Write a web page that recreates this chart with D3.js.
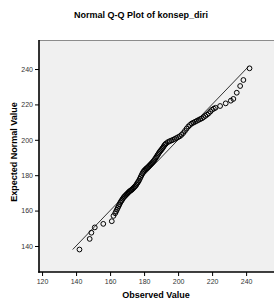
<!DOCTYPE html>
<html>
<head>
<meta charset="utf-8">
<script src="https://cdn.jsdelivr.net/npm/d3@7"></script>
<style>
  html, body { margin: 0; padding: 0; background: #ffffff; }
  svg { display: block; }
</style>
</head>
<body>
<svg id="chart" width="274" height="300"></svg>
<script>
// ---- data ----
const title = "Normal Q-Q Plot of konsep_diri";
const xLabel = "Observed Value";
const yLabel = "Expected Normal Value";
const xTicks = [120, 140, 160, 180, 200, 220, 240];
const yTicks = [140, 160, 180, 200, 220, 240];
const observed = [142, 148, 149, 151, 156, 161, 162,
  163, 163.5, 164, 164.5, 165, 165.5, 166, 166.5, 167, 167.5, 168, 168.5, 169, 169.5, 170, 170.5,
  171, 171.5, 172, 172.5, 173, 173.5, 174, 174.5, 175, 175.5, 176, 176.5, 177, 177.5, 178, 178.5,
  179, 179.5, 180, 180.5, 181, 181.5, 182, 182.5, 183, 183.5, 184, 184.5, 185, 185.5, 186, 186.5,
  187, 187.5, 188, 188.5, 189, 189.5, 190, 190.5, 191, 191.5, 192, 192.5, 193, 194, 195, 196, 197, 198,
  199, 200, 201, 202, 203, 204, 205, 206, 207, 208, 209, 210, 211, 212, 213, 214, 215, 216,
  217, 218, 219, 220, 221, 222, 224.7, 228, 231, 232.5, 234.5, 236.5, 238.4, 242];
const expected = [138, 144, 147.5, 150.5, 152.5, 154, 157,
  158.5, 159.5, 160.5, 161.5, 162.5, 163.5, 164.5, 165.3, 166, 166.8, 167.5, 168, 168.5, 169, 169.5, 170,
  170.5, 170.9, 171.3, 171.6, 172, 172.5, 173, 173.5, 174, 174.7, 175.5, 176.2, 177, 178, 179, 180,
  181, 181.8, 182.5, 183, 183.5, 183.9, 184.3, 184.8, 185.3, 185.8, 186.3, 186.8, 187.3, 187.9, 188.5, 189.2,
  190, 190.7, 191.5, 192.2, 193, 193.6, 194.2, 194.8, 195.5, 196.2, 197, 197.5, 198, 198.7, 199.2, 199.6, 200, 200.5,
  201, 201.5, 202, 202.8, 203.8, 205, 206.3, 207.5, 208.4, 209.2, 209.7, 210.2, 210.7, 211.2, 211.7, 212.1, 212.8, 213.5,
  214.2, 215, 216, 217, 217.6, 218.1, 219.1, 220.6, 222.1, 223.1, 226.6, 230.4, 233.8, 240.4];
const refLine = [138, 241.5];
const xDomain = [118.2, 256.4];
const yDomain = [125.3, 256.4];

// ---- layout ----
const plot = { left: 39, top: 40, right: 274, bottom: 272 };
const svg = d3.select("#chart");
const font = "'Liberation Sans', Arial, sans-serif";

const x = d3.scaleLinear().domain(xDomain).range([plot.left, plot.right]);
const y = d3.scaleLinear().domain(yDomain).range([plot.bottom, plot.top]);

// plot background
svg.append("rect")
  .attr("x", plot.left).attr("y", plot.top)
  .attr("width", plot.right - plot.left).attr("height", plot.bottom - plot.top)
  .attr("fill", "#f0f0f0");

// top frame line
svg.append("line")
  .attr("x1", plot.left).attr("x2", plot.right)
  .attr("y1", plot.top + 0.5).attr("y2", plot.top + 0.5)
  .attr("stroke", "#8c8c8c").attr("stroke-width", 1);

// reference line y = x
svg.append("line")
  .attr("x1", x(refLine[0])).attr("y1", y(refLine[0]))
  .attr("x2", x(refLine[1])).attr("y2", y(refLine[1]))
  .attr("stroke", "#000").attr("stroke-width", 0.8);

// points
const pts = observed.map((v, i) => ({ o: v, e: expected[i] }));
svg.append("g").selectAll("circle").data(pts).join("circle")
  .attr("cx", d => x(d.o)).attr("cy", d => y(d.e))
  .attr("r", 2.4)
  .attr("fill", "none")
  .attr("stroke", "#000").attr("stroke-width", 1);

// axes
const xAxis = d3.axisBottom(x).tickValues(xTicks).tickSize(4).tickPadding(3).tickSizeOuter(0);
const yAxis = d3.axisLeft(y).tickValues(yTicks).tickSize(4).tickPadding(2).tickSizeOuter(0);

const gx = svg.append("g").attr("transform", `translate(0,${plot.bottom})`).call(xAxis);
const gy = svg.append("g").attr("transform", `translate(${plot.left},0)`).call(yAxis);

[gx, gy].forEach(g => {
  g.select(".domain").attr("stroke", "#000").attr("stroke-width", 1.6);
  g.selectAll(".tick line").attr("stroke", "#000").attr("stroke-width", 1);
  g.selectAll(".tick text").attr("font-family", font).attr("font-size", 7).attr("fill", "#333");
});
gx.select(".domain").attr("d", `M${plot.left - 0.8},0H${plot.right}`);
gy.select(".domain").attr("d", `M0,${plot.top}V${plot.bottom + 0.8}`);

// title
svg.append("text")
  .attr("x", 141).attr("y", 18)
  .attr("text-anchor", "middle")
  .attr("font-family", font).attr("font-size", 9).attr("font-weight", "bold")
  .text(title);

// x label
svg.append("text")
  .attr("x", 156).attr("y", 298)
  .attr("text-anchor", "middle")
  .attr("font-family", font).attr("font-size", 9).attr("font-weight", "bold")
  .text(xLabel);

// y label
svg.append("text")
  .attr("transform", `translate(17,152) rotate(-90)`)
  .attr("text-anchor", "middle")
  .attr("font-family", font).attr("font-size", 9).attr("font-weight", "bold")
  .text(yLabel);
</script>
</body>
</html>
